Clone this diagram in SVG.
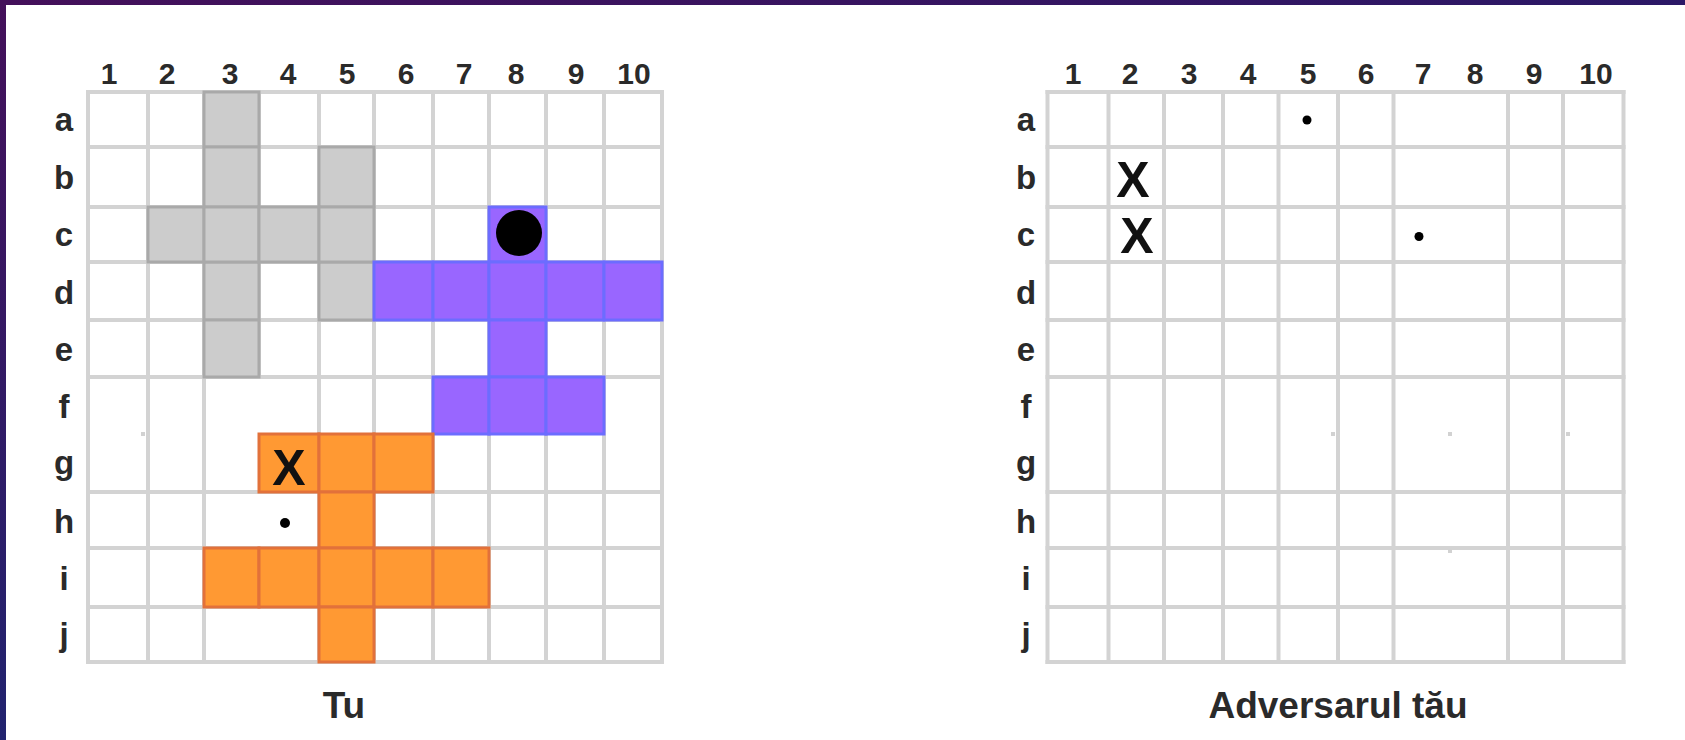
<svg xmlns="http://www.w3.org/2000/svg" width="1685" height="740" viewBox="0 0 1685 740">
<defs>
<linearGradient id="gTop" x1="0" y1="0" x2="1" y2="0">
<stop offset="0" stop-color="#44105a"/>
<stop offset="1" stop-color="#2b1866"/>
</linearGradient>
<linearGradient id="gLeft" x1="0" y1="0" x2="0" y2="1">
<stop offset="0" stop-color="#44105a"/>
<stop offset="1" stop-color="#21236f"/>
</linearGradient>
</defs>
<style>
.grid{stroke:#d3d3d3;stroke-width:4;fill:none;stroke-linecap:square}
.gray{fill:#cccccc;stroke:#a9a9a9;stroke-width:3}
.purple{fill:#9966ff;stroke:#6c6cff;stroke-width:3}
.orange{fill:#ff9933;stroke:#e2713a;stroke-width:3}
.lbl{font-family:"Liberation Sans",Arial,sans-serif;font-weight:bold;fill:#2a2a2a;text-anchor:middle}
.num{font-size:30px}
.row{font-size:33px}
.cap{font-size:37px}
.mark{font-family:"Liberation Sans",Arial,sans-serif;font-size:50px;font-weight:bold;fill:#111;text-anchor:middle}
.faint{fill:#d2d2d2}
</style>
<rect x="0" y="0" width="1685" height="740" fill="#ffffff"/>
<rect x="0" y="0" width="1685" height="5" fill="url(#gTop)"/>
<rect x="0" y="0" width="6" height="740" fill="url(#gLeft)"/>

<g id="board-you">
<g id="grid-you">
<path class="grid" d="M88 92H662M88 147H662M88 207H662M88 262H662M88 320H662M88 377H662M88 492H662M88 548H662M88 607H662M88 662H662"/>
<path class="grid" d="M88 92V662M148 92V662M204 92V662M259 92V377M319 92V662M374 92V662M433 92V662M489 92V662M546 92V662M604 92V662M662 92V662"/>
<rect class="faint" x="141" y="432" width="4" height="4"/>
</g>
<g id="ship-gray">
<rect class="gray" x="204" y="92" width="55" height="55"/>
<rect class="gray" x="204" y="147" width="55" height="60"/>
<rect class="gray" x="204" y="262" width="55" height="58"/>
<rect class="gray" x="204" y="320" width="55" height="57"/>
<rect class="gray" x="319" y="147" width="55" height="60"/>
<rect class="gray" x="319" y="262" width="55" height="58"/>
<rect class="gray" x="148" y="207" width="56" height="55"/>
<rect class="gray" x="204" y="207" width="55" height="55"/>
<rect class="gray" x="259" y="207" width="60" height="55"/>
<rect class="gray" x="319" y="207" width="55" height="55"/>
</g>
<g id="ship-purple">
<rect class="purple" x="489" y="207" width="57" height="55"/>
<rect class="purple" x="374" y="262" width="59" height="58"/>
<rect class="purple" x="433" y="262" width="56" height="58"/>
<rect class="purple" x="489" y="262" width="57" height="58"/>
<rect class="purple" x="546" y="262" width="58" height="58"/>
<rect class="purple" x="604" y="262" width="58" height="58"/>
<rect class="purple" x="489" y="320" width="57" height="57"/>
<rect class="purple" x="433" y="377" width="56" height="57"/>
<rect class="purple" x="489" y="377" width="57" height="57"/>
<rect class="purple" x="546" y="377" width="58" height="57"/>
<circle cx="519" cy="233" r="23" fill="#000"/>
</g>
<g id="ship-orange">
<rect class="orange" x="259" y="434" width="60" height="58"/>
<rect class="orange" x="319" y="434" width="55" height="58"/>
<rect class="orange" x="374" y="434" width="59" height="58"/>
<rect class="orange" x="319" y="492" width="55" height="56"/>
<rect class="orange" x="204" y="548" width="55" height="59"/>
<rect class="orange" x="259" y="548" width="60" height="59"/>
<rect class="orange" x="319" y="548" width="55" height="59"/>
<rect class="orange" x="374" y="548" width="59" height="59"/>
<rect class="orange" x="433" y="548" width="56" height="59"/>
<rect class="orange" x="319" y="607" width="55" height="55"/>
<text class="mark" x="289" y="485">X</text>
</g>
<circle cx="285" cy="523" r="5" fill="#000"/>
<g id="labels-you" class="lbl">
<text class="num" x="109" y="84">1</text>
<text class="num" x="167" y="84">2</text>
<text class="num" x="230" y="84">3</text>
<text class="num" x="288" y="84">4</text>
<text class="num" x="347" y="84">5</text>
<text class="num" x="406" y="84">6</text>
<text class="num" x="464" y="84">7</text>
<text class="num" x="516" y="84">8</text>
<text class="num" x="576" y="84">9</text>
<text class="num" x="634" y="84">10</text>
<text class="row" x="64" y="131">a</text>
<text class="row" x="64" y="189">b</text>
<text class="row" x="64" y="246">c</text>
<text class="row" x="64" y="304">d</text>
<text class="row" x="64" y="361">e</text>
<text class="row" x="64" y="418">f</text>
<text class="row" x="64" y="474">g</text>
<text class="row" x="64" y="533">h</text>
<text class="row" x="64" y="590">i</text>
<text class="row" x="64" y="646">j</text>
<text class="cap" x="344" y="718">Tu</text>
</g>
</g>

<g id="board-opponent">
<g id="grid-opponent">
<path class="grid" d="M1047.5 92H1623.5M1047.5 147H1623.5M1047.5 207H1623.5M1047.5 262H1623.5M1047.5 320H1623.5M1047.5 377H1623.5M1047.5 492H1623.5M1047.5 548H1623.5M1047.5 607H1623.5M1047.5 662H1623.5"/>
<path class="grid" d="M1047.5 92V662M1108.5 92V662M1164 92V662M1223 92V662M1278.5 92V662M1338 92V662M1393.5 92V662M1508 92V662M1563 92V662M1623.5 92V662"/>
<rect class="faint" x="1331" y="432" width="4" height="4"/>
<rect class="faint" x="1448" y="432" width="4" height="4"/>
<rect class="faint" x="1566" y="432" width="4" height="4"/>
<rect class="faint" x="1448" y="549" width="4" height="4"/>
</g>
<g id="shots-opponent">
<circle cx="1307" cy="120" r="4.5" fill="#000"/>
<circle cx="1419" cy="236.5" r="4.5" fill="#000"/>
<text class="mark" x="1133" y="197">X</text>
<text class="mark" x="1137" y="253">X</text>
</g>
<g id="labels-opponent" class="lbl">
<text class="num" x="1073" y="84">1</text>
<text class="num" x="1130" y="84">2</text>
<text class="num" x="1189" y="84">3</text>
<text class="num" x="1248" y="84">4</text>
<text class="num" x="1308" y="84">5</text>
<text class="num" x="1366" y="84">6</text>
<text class="num" x="1423" y="84">7</text>
<text class="num" x="1475" y="84">8</text>
<text class="num" x="1534" y="84">9</text>
<text class="num" x="1596" y="84">10</text>
<text class="row" x="1026" y="131">a</text>
<text class="row" x="1026" y="189">b</text>
<text class="row" x="1026" y="246">c</text>
<text class="row" x="1026" y="304">d</text>
<text class="row" x="1026" y="361">e</text>
<text class="row" x="1026" y="418">f</text>
<text class="row" x="1026" y="474">g</text>
<text class="row" x="1026" y="533">h</text>
<text class="row" x="1026" y="590">i</text>
<text class="row" x="1026" y="646">j</text>
<text class="cap" x="1338" y="718">Adversarul tău</text>
</g>
</g>
</svg>
